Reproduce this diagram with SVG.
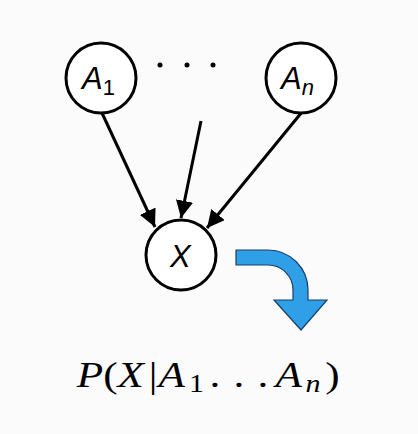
<svg xmlns="http://www.w3.org/2000/svg" width="418" height="434" viewBox="0 0 418 434">
<style>
.node{fill:#fff;stroke:#000;stroke-width:3}
.lbl{font-family:"Liberation Sans",Arial,sans-serif;font-style:italic;font-size:31px;fill:#000}
.sub{font-style:normal;font-size:22px}
.subi{font-size:22px}
.edge{stroke:#000;stroke-width:3;fill:none;marker-end:url(#ah)}
.math{font-family:"Liberation Serif","Times New Roman",serif;font-size:36px;fill:#000}
.it{font-style:italic}
</style>
<defs>
<marker id="ah" viewBox="0 0 10 10" refX="10" refY="5" markerWidth="5.8" markerHeight="5.8" markerUnits="strokeWidth" orient="auto">
<path d="M0,0 L10,5 L0,10 z" fill="#000"/>
</marker>
</defs>
<rect width="418" height="434" fill="#fbfbfb"/>
<g id="connectors">
<line class="edge" x1="102" y1="113" x2="155" y2="227"/>
<line class="edge" x1="201" y1="121" x2="181" y2="218"/>
<line class="edge" x1="302" y1="112" x2="207" y2="228"/>
</g>
<g id="A1">
<circle class="node" cx="101" cy="78" r="35"/>
<text class="lbl" x="82" y="89">A<tspan class="sub" dy="6">1</tspan></text>
</g>
<g id="dots" fill="#000">
<circle cx="160" cy="65" r="2.5"/>
<circle cx="187" cy="65" r="2.5"/>
<circle cx="213" cy="65" r="2.5"/>
</g>
<g id="An">
<circle class="node" cx="301" cy="78" r="35"/>
<text class="lbl" x="281" y="89">A<tspan class="subi" dy="6">n</tspan></text>
</g>
<g id="X">
<circle class="node" cx="181" cy="255" r="35"/>
<text class="lbl" x="170" y="267">X</text>
</g>
<g id="blue-arrow">
<path d="M236,250 L268,250 A40,40 0 0 1 308,290 L308,300 L327,300 L301,330 L274,300 L293,300 L293,290 A25,25 0 0 0 268,265 L236,265 Z" fill="#2f9fe8" stroke="#1a3f66" stroke-width="1.2" stroke-linejoin="miter"/>
</g>
<g id="formula">
<text class="math" y="387" transform="scale(1.2 1)"><tspan class="it" x="64">P</tspan><tspan x="86">(</tspan><tspan class="it" x="98">X</tspan><tspan x="124">|</tspan><tspan class="it" x="132">A</tspan><tspan font-size="25" x="157.5" dy="5">1</tspan><tspan x="174.5" dy="-5">.</tspan><tspan x="194.5">.</tspan><tspan x="214.5">.</tspan><tspan class="it" x="229.5">A</tspan><tspan class="it" font-size="25" x="254.5" dy="5">n</tspan><tspan x="271" dy="-5">)</tspan></text>
</g>
</svg>
